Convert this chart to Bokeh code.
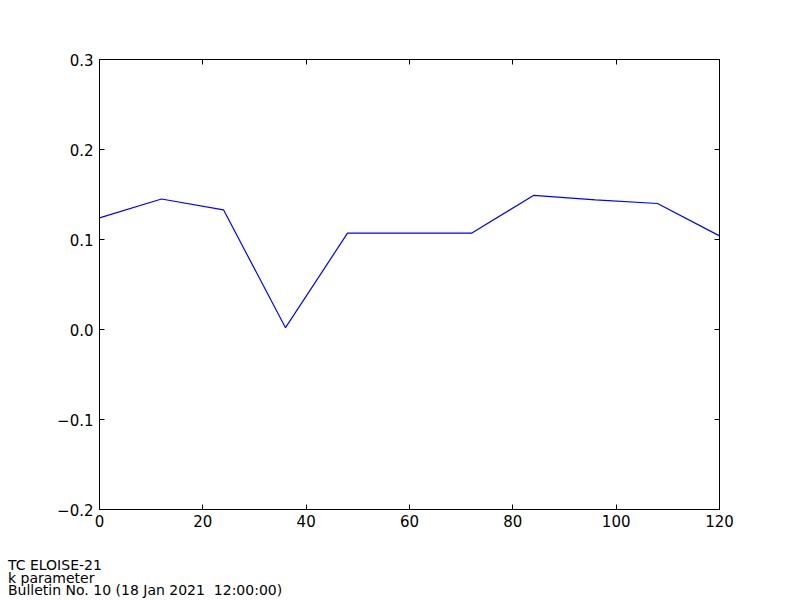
from bokeh.plotting import figure
from bokeh.models import Range1d, FixedTicker, LinearAxis, CustomJSTickFormatter, Div
from bokeh.layouts import column
from bokeh.embed import file_html
from bokeh.resources import INLINE

hours = [0, 12, 24, 36, 48, 60, 72, 84, 96, 108, 120]
k_values = [0.124, 0.145, 0.133, 0.002, 0.107, 0.107, 0.107, 0.149, 0.144, 0.140, 0.104]
x_ticks = [0, 20, 40, 60, 80, 100, 120]
y_ticks = [-0.2, -0.1, 0.0, 0.1, 0.2, 0.3]
footer_lines = ["TC ELOISE-21", "k parameter", "Bulletin No. 10 (18 Jan 2021&nbsp; 12:00:00)"]

FONT = "DejaVu Sans"

p = figure(width=790, height=538, output_backend="svg", toolbar_location=None,
           x_range=Range1d(0, 120), y_range=Range1d(-0.2, 0.3),
           x_axis_location=None, y_axis_location=None,
           min_border_left=99, min_border_right=71, min_border_top=59, min_border_bottom=29)
p.xgrid.visible = False
p.ygrid.visible = False
p.outline_line_color = "black"
p.outline_line_width = 1
p.background_fill_color = "white"
p.border_fill_color = "white"

yfmt = CustomJSTickFormatter(code="return tick.toFixed(1).replace('-', '\u2212');")

def style_axis(ax, labels=True):
    ax.axis_line_color = "black"
    ax.axis_line_width = 1
    ax.major_tick_in = 5
    ax.major_tick_out = 0
    ax.major_tick_line_color = "black"
    ax.minor_tick_line_color = None
    ax.major_label_text_font = FONT
    ax.major_label_text_font_size = "15px"
    ax.major_label_text_color = "black"
    if not labels:
        ax.major_label_text_alpha = 0
        ax.major_label_text_font_size = "1px"
        ax.major_label_standoff = 0

bottom = LinearAxis(ticker=FixedTicker(ticks=x_ticks))
style_axis(bottom)
bottom.major_label_standoff = 5
p.add_layout(bottom, "below")

top = LinearAxis(ticker=FixedTicker(ticks=x_ticks))
style_axis(top, labels=False)
p.add_layout(top, "above")

left = LinearAxis(ticker=FixedTicker(ticks=y_ticks), formatter=yfmt)
style_axis(left)
left.major_label_standoff = 6
p.add_layout(left, "left")

right = LinearAxis(ticker=FixedTicker(ticks=y_ticks), formatter=yfmt)
style_axis(right, labels=False)
p.add_layout(right, "right")

p.line(hours, k_values, line_color="#0000ff", line_width=1.2)

footer = Div(text=("<div style=\"font-family:'DejaVu Sans';font-size:14px;line-height:12.5px;"
                   "color:black;padding-top:16px;padding-left:3px;white-space:nowrap\">"
                   + "<br>".join(footer_lines) + "</div>"),
             width=790, height=54)

layout = column(p, footer, spacing=0)
open("out.html", "w").write(file_html(layout, INLINE))
